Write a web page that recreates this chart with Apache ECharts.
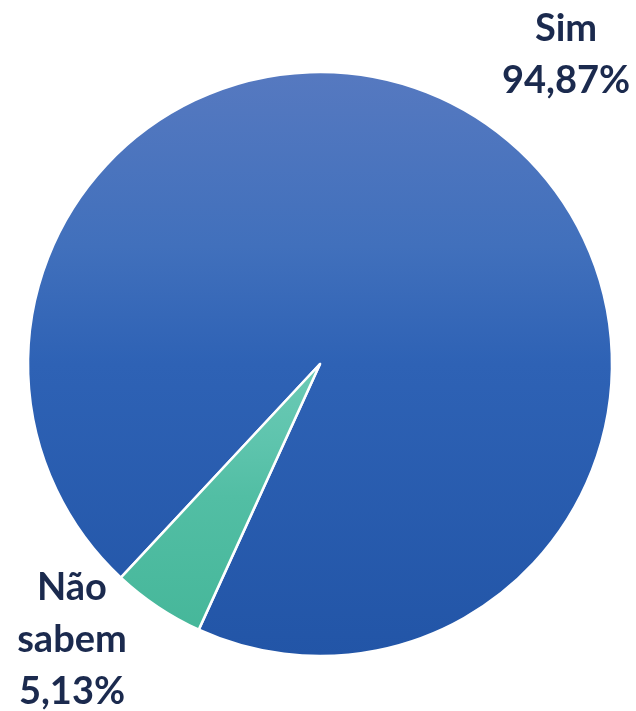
<!DOCTYPE html>
<html>
<head>
<meta charset="utf-8">
<script src="https://cdn.jsdelivr.net/npm/echarts@6/dist/echarts.min.js"></script>
<style>
  html, body { margin: 0; padding: 0; background: #fff; }
  #chart { width: 636px; height: 711px; }
</style>
</head>
<body>
<div id="chart"></div>
<script>
// dados do gráfico
const categorias = ['Sim', 'Não sabem'];
const valores = [94.87, 5.13];
const coresGrad = [
  ['#5679c0', '#4170bc', '#2e62b5', '#2255a7'],
  ['#6ccab5', '#5ec4ad', '#52bea4', '#46b79a']
];
// posição dos rótulos (x, y do topo)
const posRotulos = [[566, 3], [72, 562]];

function gradiente(i) {
  const c = coresGrad[i];
  return new echarts.graphic.LinearGradient(0, 0, 0, 1, [
    { offset: 0, color: c[0] },
    { offset: 0.3, color: c[1] },
    { offset: 0.5, color: c[2] },
    { offset: 1, color: c[3] }
  ]);
}

const chart = echarts.init(document.getElementById('chart'));
const option = {
  animation: false,
  series: [{
    type: 'pie',
    center: [320, 364],
    radius: 292,
    startAngle: 227,
    clockwise: true,
    data: categorias.map((nome, i) => ({
      name: nome,
      value: valores[i],
      itemStyle: { color: gradiente(i) }
    })),
    itemStyle: { borderColor: '#ffffff', borderWidth: 2.5 },
    label: {
      show: true,
      position: 'outside',
      overflow: 'none',
      fontFamily: 'Lato',
      fontWeight: 'bold',
      fontSize: 38,
      lineHeight: 52,
      color: '#1b2a4e',
      align: 'center',
      formatter: p => p.name.replace(' ', '\n') + '\n' + p.value.toFixed(2).replace('.', ',') + '%'
    },
    labelLine: { show: false },
    labelLayout: p => ({
      x: posRotulos[p.dataIndex][0],
      y: posRotulos[p.dataIndex][1],
      align: 'center',
      verticalAlign: 'top'
    })
  }]
};
chart.setOption(option);
</script>
</body>
</html>
